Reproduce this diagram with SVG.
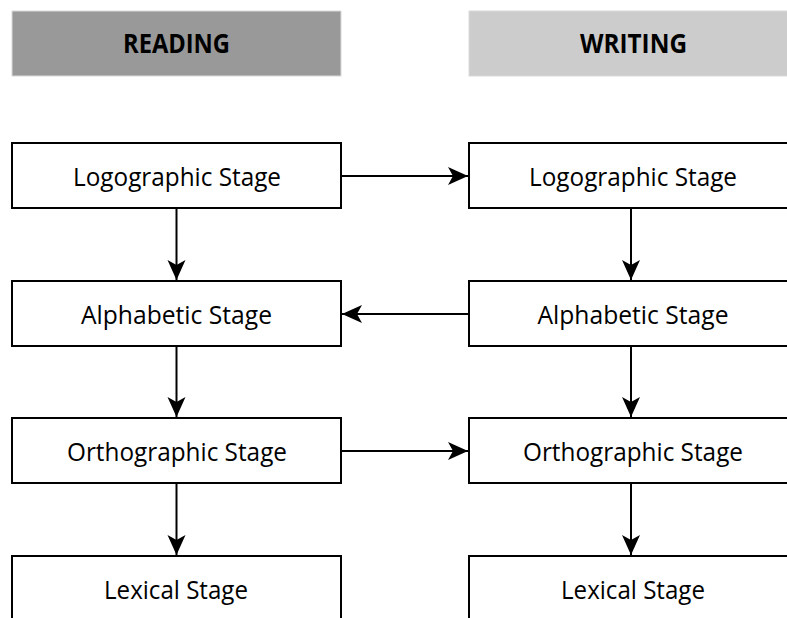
<svg xmlns="http://www.w3.org/2000/svg" width="787" height="618" viewBox="0 0 787 618">
<style>
.hdr{stroke:#d9d9d9;stroke-width:1}
.box{fill:#fff;stroke:#000;stroke-width:2}
.t{font-family:"Open Sans","Noto Sans",sans-serif;font-size:25px;fill:#000;text-anchor:middle}
.h{font-family:"Open Sans","Noto Sans",sans-serif;font-size:26px;font-weight:bold;fill:#000;text-anchor:middle}
.c{stroke:#000;stroke-width:2;fill:none;marker-end:url(#b)}
</style>
<defs>
<marker id="b" markerWidth="20" markerHeight="20" refX="20" refY="10" orient="auto" markerUnits="userSpaceOnUse" viewBox="0 0 20 20">
<path d="M0,1 L20,10 L0,19 L5,10 Z" fill="#000"/>
</marker>
</defs>
<g id="reading-header"><rect class="hdr" x="12" y="11" width="329" height="65" fill="#999"/><text class="h" x="176.5" y="53" textLength="107" lengthAdjust="spacingAndGlyphs">READING</text></g>
<g id="writing-header"><rect class="hdr" x="469" y="11" width="330" height="65" fill="#ccc"/><text class="h" x="633.5" y="53" textLength="107" lengthAdjust="spacingAndGlyphs">WRITING</text></g>
<g id="connectors">
<line class="c" x1="341" y1="176" x2="468" y2="176"/>
<line class="c" x1="468" y1="314" x2="342" y2="314"/>
<line class="c" x1="341" y1="451" x2="468" y2="451"/>
<line class="c" x1="176.5" y1="208" x2="176.5" y2="280"/>
<line class="c" x1="176.5" y1="346" x2="176.5" y2="417"/>
<line class="c" x1="176.5" y1="483" x2="176.5" y2="555"/>
<line class="c" x1="631" y1="208" x2="631" y2="280"/>
<line class="c" x1="631" y1="346" x2="631" y2="417"/>
<line class="c" x1="631" y1="483" x2="631" y2="555"/>
</g>
<g id="r1"><rect class="box" x="12" y="143" width="329" height="65"/><text class="t" x="177" y="186" textLength="208" lengthAdjust="spacingAndGlyphs">Logographic Stage</text></g>
<g id="r2"><rect class="box" x="12" y="281" width="329" height="65"/><text class="t" x="176.5" y="324" textLength="191" lengthAdjust="spacingAndGlyphs">Alphabetic Stage</text></g>
<g id="r3"><rect class="box" x="12" y="418" width="329" height="65"/><text class="t" x="177" y="461" textLength="220" lengthAdjust="spacingAndGlyphs">Orthographic Stage</text></g>
<g id="r4"><rect class="box" x="12" y="556" width="329" height="70"/><text class="t" x="176" y="599" textLength="144" lengthAdjust="spacingAndGlyphs">Lexical Stage</text></g>
<g id="w1"><rect class="box" x="469" y="143" width="330" height="65"/><text class="t" x="633" y="186" textLength="208" lengthAdjust="spacingAndGlyphs">Logographic Stage</text></g>
<g id="w2"><rect class="box" x="469" y="281" width="330" height="65"/><text class="t" x="633" y="324" textLength="191" lengthAdjust="spacingAndGlyphs">Alphabetic Stage</text></g>
<g id="w3"><rect class="box" x="469" y="418" width="330" height="65"/><text class="t" x="633" y="461" textLength="220" lengthAdjust="spacingAndGlyphs">Orthographic Stage</text></g>
<g id="w4"><rect class="box" x="469" y="556" width="330" height="70"/><text class="t" x="633" y="599" textLength="144" lengthAdjust="spacingAndGlyphs">Lexical Stage</text></g>
</svg>
